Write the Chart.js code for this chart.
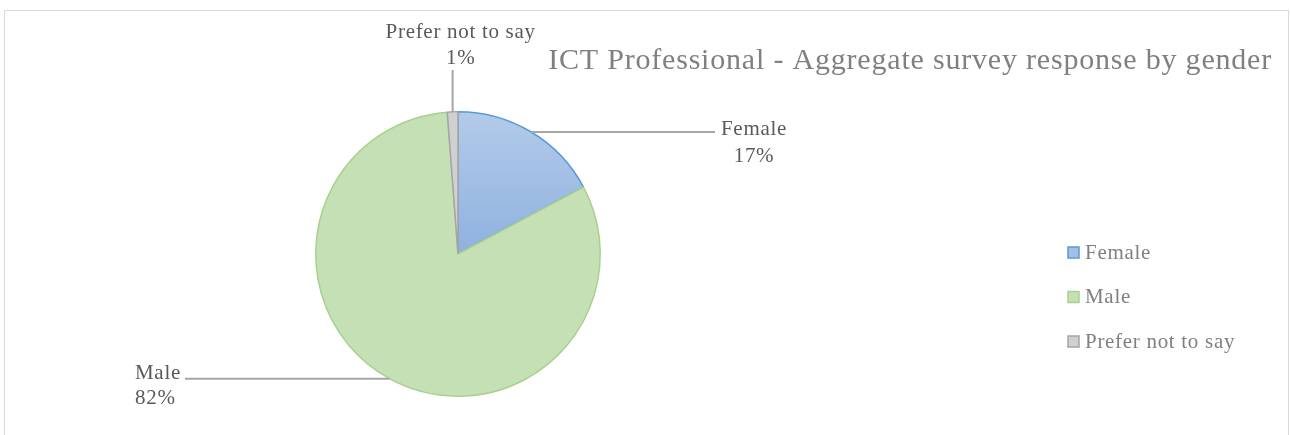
<!DOCTYPE html>
<html>
<head>
<meta charset="utf-8">
<script src="https://cdn.jsdelivr.net/npm/chart.js@4.4.0/dist/chart.umd.min.js"></script>
<style>
  html, body { margin: 0; padding: 0; background: #fff; overflow: hidden; }
  #marco {
    position: absolute; left: 4px; top: 10px; width: 1285px; height: 440px;
    border: 1.5px solid #d9d9d9; box-sizing: border-box;
  }
  #zona { position: absolute; left: 0; top: 0; width: 1290px; height: 435px; }
</style>
</head>
<body>
<div id="marco"></div>
<div id="zona"><canvas id="grafico" width="1290" height="435"></canvas></div>
<script>
// Datos
const categorias = ['Female', 'Male', 'Prefer not to say'];
const porcentajes = [17.2, 81.6, 1.2];
const etiquetasPct = ['17%', '82%', '1%'];
const titulo = 'ICT Professional - Aggregate survey response by gender';

const rellenos = ['#a4bfe4', '#c5e0b4', '#d0d0d0'];
const bordes = ['#5b9bd5', '#a9d18e', '#a5a5a5'];

const fuente = '"Liberation Serif", "DejaVu Serif", serif';

// relleno degradado para Female (como en Excel)
function rellenoSector(ctx) {
  const i = ctx.dataIndex;
  if (i !== 0) return rellenos[i];
  const area = ctx.chart.chartArea;
  if (!area) return rellenos[0];
  const g = ctx.chart.ctx.createLinearGradient(0, area.top, 0, area.top + area.height / 2);
  g.addColorStop(0, '#b3cbea');
  g.addColorStop(1, '#8fb1df');
  return g;
}

// Título, leyenda y etiquetas con líneas guía
const extras = {
  id: 'extras',
  afterDatasetsDraw(chart) {
    const ctx = chart.ctx;
    const arcos = chart.getDatasetMeta(0).data;
    const cx = arcos[0].x, cy = arcos[0].y, r = arcos[0].outerRadius;

    ctx.save();
    // título
    ctx.fillStyle = '#808080';
    ctx.font = '30px ' + fuente;
    ctx.letterSpacing = '0.8px';
    ctx.textAlign = 'right';
    ctx.textBaseline = 'middle';
    ctx.fillText(titulo, 1272, 61);

    // líneas guía
    ctx.strokeStyle = '#a6a6a6';
    ctx.lineWidth = 2;
    const medio = arcos.map(a => (a.startAngle + a.endAngle) / 2);
    const px = i => cx + r * Math.cos(medio[i]);
    const py = i => cy + r * Math.sin(medio[i]);

    ctx.beginPath();
    ctx.moveTo(px(0), py(0)); ctx.lineTo(cx + 257, py(0));
    ctx.moveTo(px(1), py(1)); ctx.lineTo(cx - 273, py(1));
    ctx.moveTo(px(2), py(2)); ctx.lineTo(px(2), cy - 184);
    ctx.stroke();

    // etiquetas de datos
    ctx.fillStyle = '#595959';
    ctx.font = '21px ' + fuente;
    ctx.letterSpacing = '0.7px';
    ctx.textBaseline = 'middle';
    ctx.textAlign = 'center';
    const fx = cx + 296;
    ctx.fillText(categorias[0], fx, py(0) - 3);
    ctx.fillText(etiquetasPct[0], fx, py(0) + 24);

    ctx.textAlign = 'left';
    ctx.fillText(categorias[1], cx - 323, py(1) - 5);
    ctx.fillText(etiquetasPct[1], cx - 323, py(1) + 20);

    ctx.textAlign = 'center';
    ctx.fillText(categorias[2], px(2) + 8, cy - 222);
    ctx.fillText(etiquetasPct[2], px(2) + 8, cy - 196);

    // leyenda
    ctx.textAlign = 'left';
    ctx.lineWidth = 1.5;
    categorias.forEach((c, i) => {
      const y = 253 + i * 44.5;
      ctx.fillStyle = rellenos[i];
      ctx.fillRect(1068, y - 6, 11, 11);
      ctx.strokeStyle = bordes[i];
      ctx.strokeRect(1068, y - 6, 11, 11);
      ctx.fillStyle = '#7f7f7f';
      ctx.fillText(c, 1085, y);
    });
    ctx.restore();
  }
};

new Chart(document.getElementById('grafico').getContext('2d'), {
  type: 'pie',
  data: {
    labels: categorias,
    datasets: [{
      data: porcentajes,
      backgroundColor: rellenoSector,
      borderColor: bordes,
      borderWidth: 1.5,
      hoverOffset: 0
    }]
  },
  options: {
    responsive: false,
    animation: false,
    layout: { padding: { left: 315, right: 689, top: 111, bottom: 38 } },
    plugins: {
      legend: { display: false },
      title: { display: false },
      tooltip: { enabled: false }
    }
  },
  plugins: [extras]
});
</script>
</body>
</html>
